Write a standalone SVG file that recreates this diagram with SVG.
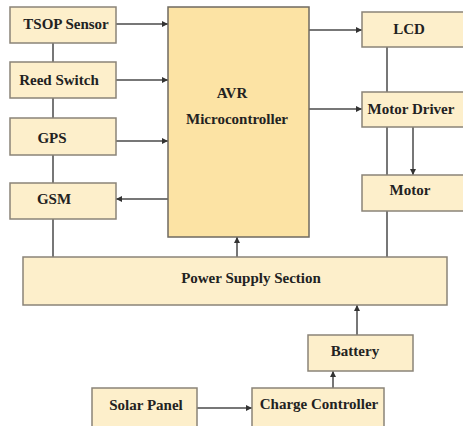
<svg xmlns="http://www.w3.org/2000/svg" width="463" height="426" viewBox="0 0 463 426">
<defs>
<style>
.box{fill:#FDEFCB;stroke:#8a8478;stroke-width:1.5}
.avr{fill:#FCE3A4;stroke:#6f6a60;stroke-width:1.5}
.t{font-family:"Liberation Serif",serif;font-weight:bold;font-size:15px;fill:#222;text-anchor:middle}
.c{stroke:#4a4a4a;stroke-width:1.5;fill:none}
.a{stroke:#4a4a4a;stroke-width:1.5;fill:none;marker-end:url(#ah)}
</style>
<marker id="ah" viewBox="0 0 6 6" refX="6" refY="3" markerWidth="4" markerHeight="4" orient="auto" markerUnits="strokeWidth">
<path d="M0,0 L6,3 L0,6 z" fill="#333"/>
</marker>
</defs>
<rect width="463" height="426" fill="#fff"/>
<g id="connectors">
<line class="c" x1="53" y1="43" x2="53" y2="62"/>
<line class="c" x1="53" y1="98" x2="53" y2="118"/>
<line class="c" x1="53" y1="155" x2="53" y2="183"/>
<line class="c" x1="53" y1="219" x2="53" y2="257"/>
<line class="a" x1="116" y1="24" x2="168" y2="24"/>
<line class="a" x1="116" y1="80" x2="168" y2="80"/>
<line class="a" x1="116" y1="141" x2="168" y2="141"/>
<line class="a" x1="168" y1="199" x2="116" y2="199"/>
<line class="a" x1="309" y1="30" x2="362" y2="30"/>
<line class="a" x1="309" y1="109" x2="362" y2="109"/>
<line class="c" x1="387" y1="47" x2="387" y2="92"/>
<line class="c" x1="387" y1="127" x2="387" y2="175"/>
<line class="a" x1="413" y1="127" x2="413" y2="175"/>
<line class="c" x1="387" y1="211" x2="387" y2="257"/>
<line class="a" x1="237" y1="257" x2="237" y2="237"/>
<line class="a" x1="357" y1="335" x2="357" y2="305"/>
<line class="a" x1="333" y1="390" x2="333" y2="371"/>
<line class="a" x1="197" y1="408" x2="252" y2="408"/>
</g>
<g id="tsop"><rect class="box" x="10" y="7" width="106" height="36"/><text class="t" x="66" y="29">TSOP Sensor</text></g>
<g id="reed"><rect class="box" x="10" y="62" width="106" height="36"/><text class="t" x="59" y="85">Reed Switch</text></g>
<g id="gps"><rect class="box" x="10" y="118" width="106" height="37"/><text class="t" x="52" y="143">GPS</text></g>
<g id="gsm"><rect class="box" x="10" y="183" width="106" height="36"/><text class="t" x="54" y="204">GSM</text></g>
<g id="avr"><rect class="avr" x="168" y="7" width="141" height="230"/><text class="t" x="232" y="98">AVR</text><text class="t" x="237" y="124">Microcontroller</text></g>
<g id="lcd"><rect class="box" x="362" y="12" width="106" height="35"/><text class="t" x="409" y="34">LCD</text></g>
<g id="motordriver"><rect class="box" x="362" y="92" width="106" height="35"/><text class="t" x="411" y="114">Motor Driver</text></g>
<g id="motor"><rect class="box" x="362" y="175" width="106" height="36"/><text class="t" x="410" y="195">Motor</text></g>
<g id="power"><rect class="box" x="23" y="257" width="424" height="48"/><text class="t" x="251" y="283">Power Supply Section</text></g>
<g id="battery"><rect class="box" x="308" y="335" width="105" height="36"/><text class="t" x="355" y="356">Battery</text></g>
<g id="solar"><rect class="box" x="92" y="388" width="105" height="40"/><text class="t" x="146" y="410">Solar Panel</text></g>
<g id="charge"><rect class="box" x="252" y="388" width="132" height="40"/><text class="t" x="319" y="409">Charge Controller</text></g>
</svg>
